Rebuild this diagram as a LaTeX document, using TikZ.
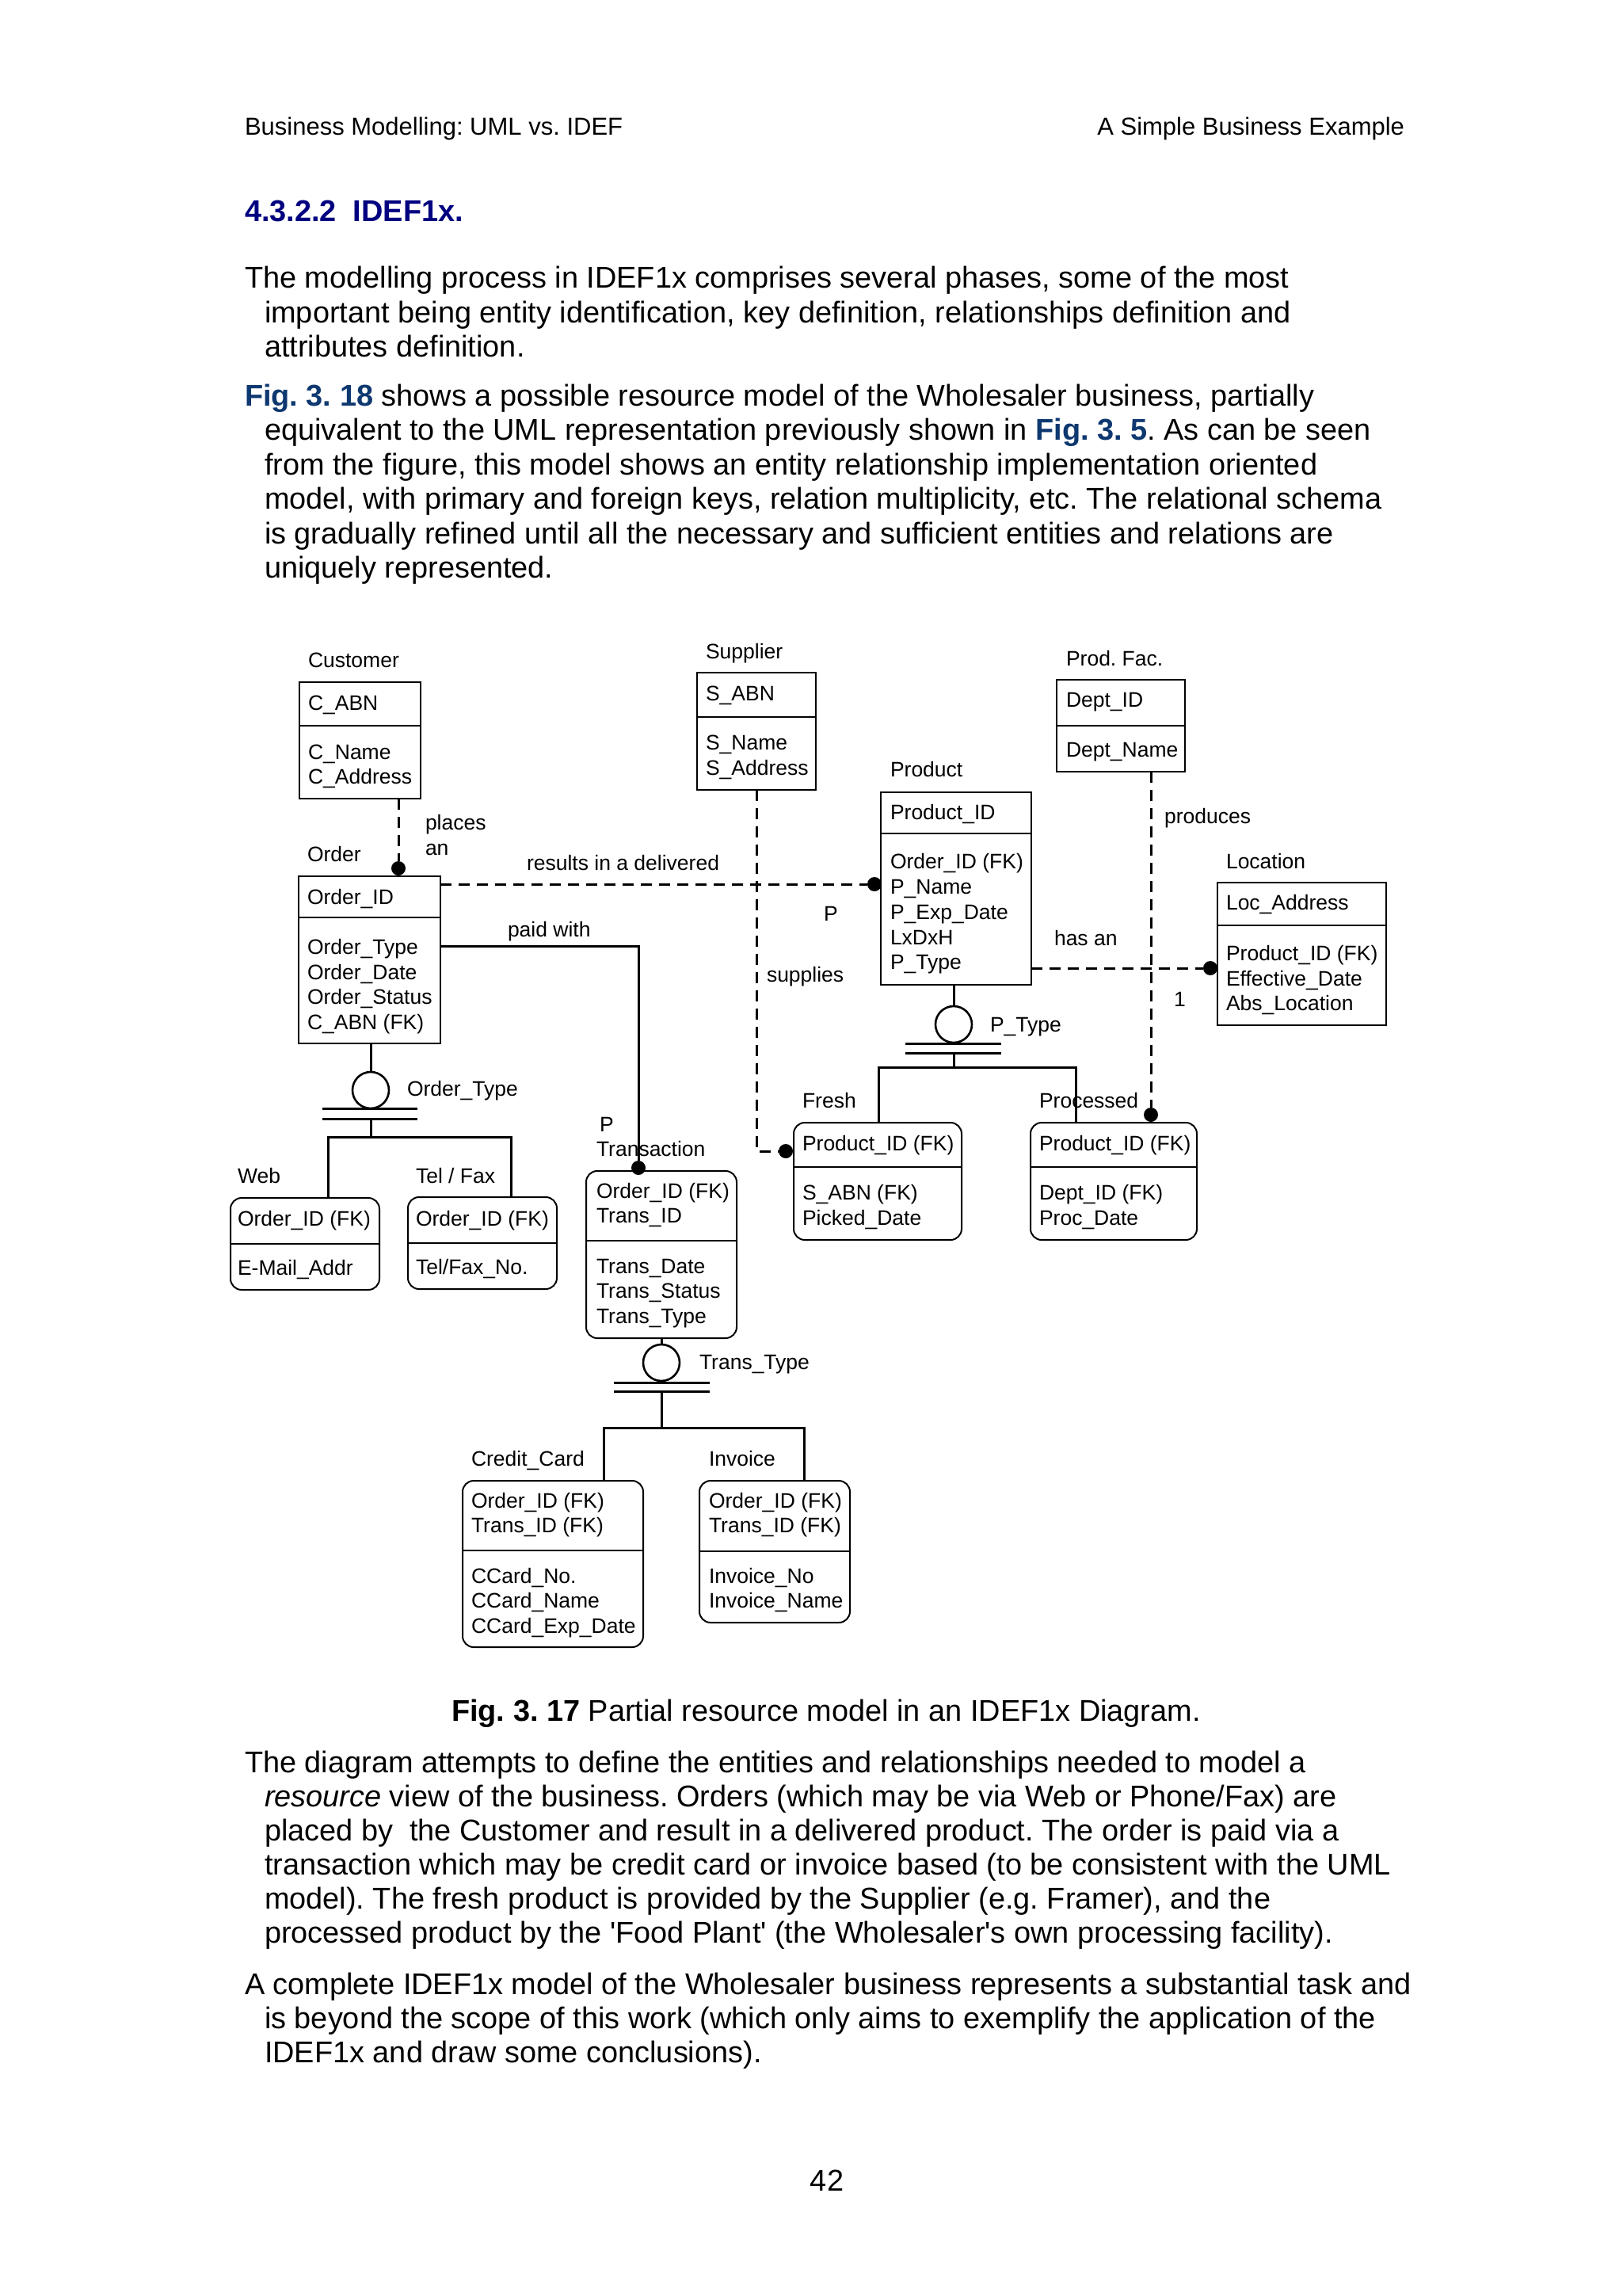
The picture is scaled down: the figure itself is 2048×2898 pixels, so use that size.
\documentclass[tikz,border=0pt]{standalone}
\usepackage{fontspec}
\newfontfamily\pf{Liberation Sans}
\usetikzlibrary{calc}
\definecolor{headblue}{RGB}{0,0,128}
\definecolor{figblue}{RGB}{14,56,112}
\frenchspacing
\newcommand\dtx[4]{\node[dt] (#1) at (#2,#3) {#4};}
\newcommand\ptx[4]{\node[pt] (#1) at (#2,#3) {#4};}
\newcommand\entbox[8]{%
  \node[#8, anchor=north west, minimum width=#4, minimum height=#5] (#1) at (#2,#3) {};
  \draw[eline] ($(#1.north west)+(0,#6)$) -- ($(#1.north east)+(0,#6)$);}
\begin{document}
\begin{tikzpicture}[x=1pt,y=-1pt,
  dt/.style={anchor=base west, inner sep=0, outer sep=0, font=\pf\frenchspacing\fontsize{26.5}{31}\selectfont},
  pt/.style={anchor=base west, inner sep=0, outer sep=0, font=\pf\frenchspacing\fontsize{37.9}{43.5}\selectfont},
  hd/.style={anchor=base west, inner sep=0, outer sep=0, font=\pf\frenchspacing\fontsize{31}{36}\selectfont},
  ebox/.style={draw, rectangle, line width=2pt, inner sep=0, outer sep=0},
  rbox/.style={draw, rectangle, rounded corners=14pt, line width=2pt, inner sep=0, outer sep=0},
  eline/.style={line width=2pt},
  sconn/.style={line width=3pt},
  dconn/.style={line width=3pt, dash pattern=on 14pt off 9pt},
  dotnode/.style={circle, fill=black, inner sep=0, minimum size=18pt},
  catc/.style={circle, draw, line width=2.6pt, inner sep=0, minimum size=46pt},
]
\useasboundingbox[fill=white] (0,0) rectangle (2048,2898);

% ---------- page text ----------
\node[hd] (h1) at (309,171) {Business Modelling: UML vs. IDEF};
\node[hd, anchor=base east] (h2) at (1773,171) {A Simple Business Example};
\node[pt, text=headblue, font=\pf\bfseries\fontsize{37.9}{43.5}\selectfont] (sec) at (309,279) {4.3.2.2\ \ IDEF1x.};

\ptx{a1}{309}{363}{The modelling process in IDEF1x comprises several phases, some of the most}
\ptx{a2}{334}{407}{important being entity identification, key definition, relationships definition and}
\ptx{a3}{334}{450}{attributes definition.}

\ptx{b1}{309}{512}{\textcolor{figblue}{\bfseries Fig. 3. 18} shows a possible resource model of the Wholesaler business, partially}
\ptx{b2}{334}{555}{equivalent to the UML representation previously shown in \textcolor{figblue}{\bfseries Fig. 3. 5}. As can be seen}
\ptx{b3}{334}{599}{from the figure, this model shows an entity relationship implementation oriented}
\ptx{b4}{334}{642}{model, with primary and foreign keys, relation multiplicity, etc. The relational schema}
\ptx{b5}{334}{686}{is gradually refined until all the necessary and sufficient entities and relations are}
\ptx{b6}{334}{729}{uniquely represented.}

\node[pt, anchor=base] (cap) at (1043,2172) {{\bfseries Fig. 3. 17} Partial resource model in an IDEF1x Diagram.};

\ptx{c1}{309}{2237}{The diagram attempts to define the entities and relationships needed to model a}
\ptx{c2}{334}{2280}{\textit{resource} view of the business. Orders (which may be via Web or Phone/Fax) are}
\ptx{c3}{334}{2323}{placed by \ the Customer and result in a delivered product. The order is paid via a}
\ptx{c4}{334}{2366}{transaction which may be credit card or invoice based (to be consistent with the UML}
\ptx{c5}{334}{2409}{model). The fresh product is provided by the Supplier (e.g. Framer), and the}
\ptx{c6}{334}{2452}{processed product by the 'Food Plant' (the Wholesaler's own processing facility).}

\ptx{e1}{309}{2517}{A complete IDEF1x model of the Wholesaler business represents a substantial task and}
\ptx{e2}{334}{2560}{is beyond the scope of this work (which only aims to exemplify the application of the}
\ptx{e3}{334}{2603}{IDEF1x and draw some conclusions).}

\node[pt, anchor=base] (pg) at (1044,2765) {42};

% ---------- entities ----------
\entbox{cust}{378}{861}{153}{147}{55}{}{ebox}
\entbox{order}{377}{1106}{179}{211}{52}{}{ebox}
\entbox{supp}{880}{849}{150}{148}{56}{}{ebox}
\entbox{prod}{1112}{1000}{190}{243}{52}{}{ebox}
\entbox{pfac}{1334}{858}{162}{116}{58}{}{ebox}
\entbox{loc}{1537}{1114}{213}{180}{54}{}{ebox}
\entbox{web}{291}{1512}{188}{116}{58}{}{rbox}
\entbox{tel}{515}{1511}{188}{116}{58}{}{rbox}
\entbox{trans}{740}{1478}{190}{211}{88}{}{rbox}
\entbox{fresh}{1002}{1417}{212}{148}{56}{}{rbox}
\entbox{proc}{1301}{1417}{210}{148}{56}{}{rbox}
\entbox{cc}{584}{1869}{228}{210}{88}{}{rbox}
\entbox{inv}{883}{1869}{190}{179}{89}{}{rbox}

% entity names
\dtx{lcust}{389}{842}{Customer}
\dtx{lorder}{388}{1087}{Order}
\dtx{lsupp}{891}{831}{Supplier}
\dtx{lprod}{1124}{980}{Product}
\dtx{lpfac}{1346}{840}{Prod. Fac.}
\dtx{lloc}{1548}{1096}{Location}
\dtx{lweb}{300}{1493}{Web}
\dtx{ltel}{525}{1493}{Tel / Fax}
\dtx{ltrp}{757}{1428}{P}
\dtx{ltrans}{753}{1459}{Transaction}
\dtx{lfresh}{1013}{1398}{Fresh}
\dtx{lproc}{1312}{1398}{Processed}
\dtx{lcc}{595}{1850}{Credit\_Card}
\dtx{linv}{895}{1850}{Invoice}

% attributes
\dtx{cu1}{389}{896}{C\_ABN}
\dtx{cu2}{389}{958}{C\_Name}
\dtx{cu3}{389}{989}{C\_Address}
\dtx{or1}{388}{1141}{Order\_ID}
\dtx{or2}{388}{1204}{Order\_Type}
\dtx{or3}{388}{1236}{Order\_Date}
\dtx{or4}{388}{1267}{Order\_Status}
\dtx{or5}{388}{1299}{C\_ABN (FK)}
\dtx{su1}{891}{884}{S\_ABN}
\dtx{su2}{891}{946}{S\_Name}
\dtx{su3}{891}{978}{S\_Address}
\dtx{pr1}{1124}{1034}{Product\_ID}
\dtx{pr2}{1124}{1096}{Order\_ID (FK)}
\dtx{pr3}{1124}{1128}{P\_Name}
\dtx{pr4}{1124}{1160}{P\_Exp\_Date}
\dtx{pr5}{1124}{1192}{LxDxH}
\dtx{pr6}{1124}{1223}{P\_Type}
\dtx{pf1}{1346}{892}{Dept\_ID}
\dtx{pf2}{1346}{955}{Dept\_Name}
\dtx{lo1}{1548}{1148}{Loc\_Address}
\dtx{lo2}{1548}{1212}{Product\_ID (FK)}
\dtx{lo3}{1548}{1244}{Effective\_Date}
\dtx{lo4}{1548}{1275}{Abs\_Location}
\dtx{we1}{300}{1547}{Order\_ID (FK)}
\dtx{we2}{300}{1609}{E-Mail\_Addr}
\dtx{te1}{525}{1547}{Order\_ID (FK)}
\dtx{te2}{525}{1608}{Tel/Fax\_No.}
\dtx{tr1}{753}{1512}{Order\_ID (FK)}
\dtx{tr2}{753}{1543}{Trans\_ID}
\dtx{tr3}{753}{1607}{Trans\_Date}
\dtx{tr4}{753}{1638}{Trans\_Status}
\dtx{tr5}{753}{1670}{Trans\_Type}
\dtx{fr1}{1013}{1452}{Product\_ID (FK)}
\dtx{fr2}{1013}{1514}{S\_ABN (FK)}
\dtx{fr3}{1013}{1546}{Picked\_Date}
\dtx{pc1}{1312}{1452}{Product\_ID (FK)}
\dtx{pc2}{1312}{1514}{Dept\_ID (FK)}
\dtx{pc3}{1312}{1546}{Proc\_Date}
\dtx{cc1}{595}{1903}{Order\_ID (FK)}
\dtx{cc2}{595}{1934}{Trans\_ID (FK)}
\dtx{cc3}{595}{1998}{CCard\_No.}
\dtx{cc4}{595}{2029}{CCard\_Name}
\dtx{cc5}{595}{2061}{CCard\_Exp\_Date}
\dtx{in1}{895}{1903}{Order\_ID (FK)}
\dtx{in2}{895}{1934}{Trans\_ID (FK)}
\dtx{in3}{895}{1998}{Invoice\_No}
\dtx{in4}{895}{2029}{Invoice\_Name}

% relationship labels
\dtx{rplaces}{537}{1047}{places}
\dtx{ran}{537}{1079}{an}
\dtx{rresults}{665}{1098}{results in a delivered}
\dtx{rpaid}{641}{1182}{paid with}
\dtx{rp}{1040}{1162}{P}
\dtx{rsupplies}{968}{1239}{supplies}
\dtx{rproduces}{1470}{1039}{produces}
\dtx{rhas}{1331}{1193}{has an}
\dtx{rone}{1482}{1270}{1}
\dtx{rot}{514}{1383}{Order\_Type}
\dtx{rpt}{1250}{1302}{P\_Type}
\dtx{rtt}{883}{1728}{Trans\_Type}

% dots
\node[dotnode] (d1) at (503,1096) {};
\node[dotnode] (d2) at (1104,1116) {};
\node[dotnode] (d3) at (992,1453) {};
\node[dotnode] (d4) at (1453,1407) {};
\node[dotnode] (d5) at (1528,1222) {};
\node[dotnode] (d6) at (806,1474) {};

% relationship connectors
\coordinate (sj) at (955,1453);
\coordinate (pj) at (806,1194);
\draw[dconn] (cust.south -| d1) -- (d1);
\draw[dconn] (order.east |- d2) -- (d2);
\draw[dconn] (supp.south -| sj) -- (sj) -- (d3);
\draw[dconn] (pfac.south -| d4) -- (d4);
\draw[dconn] (prod.east |- d5) -- (d5);
\draw[sconn] (order.east |- pj) -- (pj) -- (d6);

% category: Order_Type
\node[catc] (k1) at (468,1376) {};
\coordinate (k1a) at (468,1399);
\coordinate (k1b) at (468,1412);
\coordinate (k1j) at (468,1435);
\coordinate (wj) at (414,1435);
\coordinate (tj) at (645,1435);
\draw[sconn] (k1.north |- order.south) -- (k1.north);
\draw[sconn] ($(k1a)+(-61,0)$) -- ($(k1a)+(59,0)$);
\draw[sconn] ($(k1b)+(-61,0)$) -- ($(k1b)+(59,0)$);
\draw[sconn] (k1b) -- (k1j);
\draw[sconn] (web.north -| wj) -- (wj) -- (tj) -- (tel.north -| tj);

% category: P_Type
\node[catc] (k2) at (1204,1293) {};
\coordinate (k2a) at (1204,1317);
\coordinate (k2b) at (1204,1329);
\coordinate (k2j) at (1204,1347);
\coordinate (fj) at (1109,1347);
\coordinate (qj) at (1358,1347);
\draw[sconn] (k2.north |- prod.south) -- (k2.north);
\draw[sconn] ($(k2a)+(-61,0)$) -- ($(k2a)+(60,0)$);
\draw[sconn] ($(k2b)+(-61,0)$) -- ($(k2b)+(60,0)$);
\draw[sconn] (k2b) -- (k2j);
\draw[sconn] (fresh.north -| fj) -- (fj) -- (qj) -- (proc.north -| qj);

% category: Trans_Type
\node[catc] (k3) at (835,1720) {};
\coordinate (k3a) at (835,1745);
\coordinate (k3b) at (835,1756);
\coordinate (k3j) at (835,1802);
\coordinate (cj) at (762,1802);
\coordinate (ij) at (1015,1802);
\draw[sconn] (k3.north |- trans.south) -- (k3.north);
\draw[sconn] ($(k3a)+(-60,0)$) -- ($(k3a)+(61,0)$);
\draw[sconn] ($(k3b)+(-60,0)$) -- ($(k3b)+(61,0)$);
\draw[sconn] (k3b) -- (k3j);
\draw[sconn] (cc.north -| cj) -- (cj) -- (ij) -- (inv.north -| ij);
\end{tikzpicture}
\end{document}
